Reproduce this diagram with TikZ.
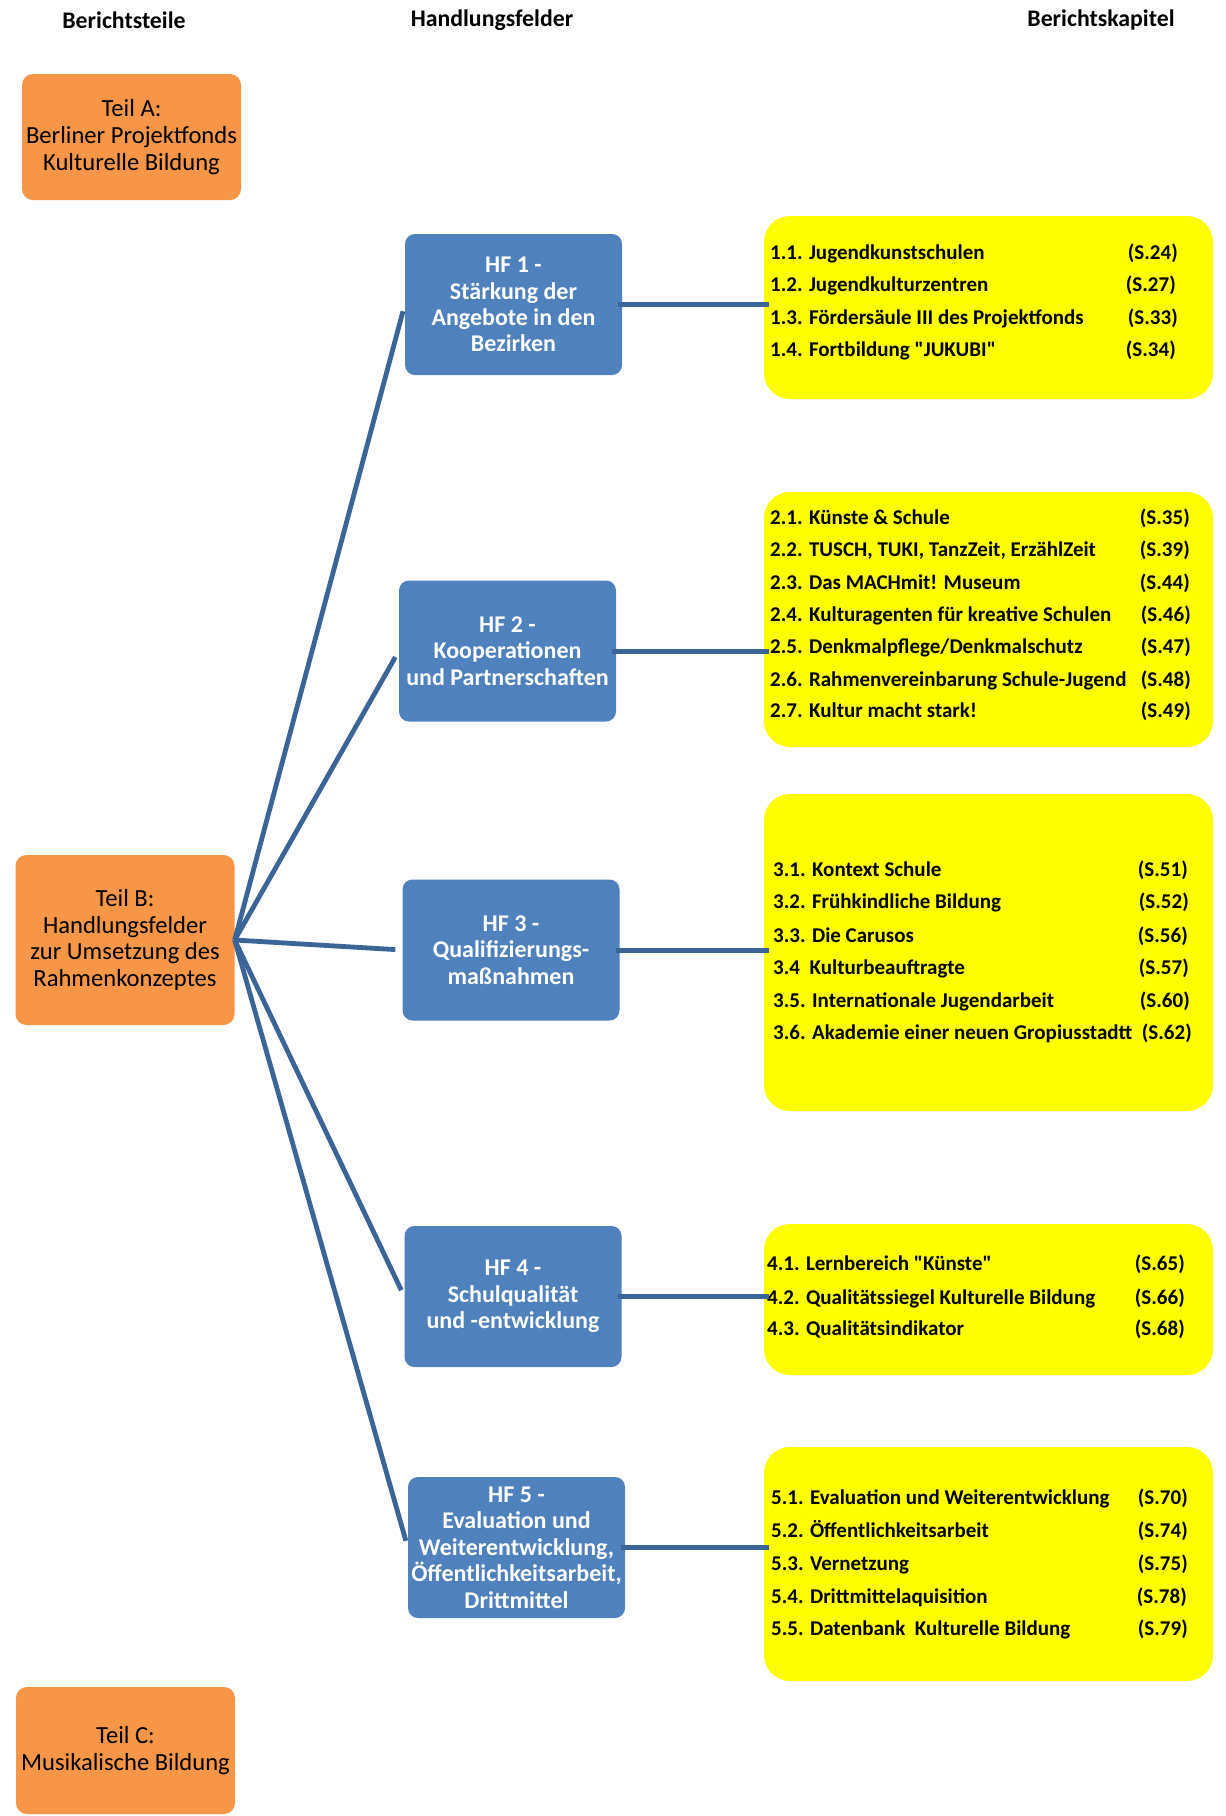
\documentclass[tikz,border=0pt]{standalone}
\usepackage{fontspec}
\setmainfont{Carlito}
\definecolor{orangefill}{HTML}{F79646}
\definecolor{bluefill}{HTML}{4F81BD}
\definecolor{linkblue}{HTML}{3B6597}
\definecolor{yellowfill}{HTML}{FFFF00}
\newcommand\kaprow[5]{%
  \node[itemtext, anchor=base west] (#1t) at (#2) {#4};
  \node[itemtext, anchor=base east] (#1p) at (#3) {#5};}
\begin{document}
\begin{tikzpicture}[x=1pt, y=-1pt,
  header/.style={font=\fontsize{23.8}{26}\selectfont\bfseries, inner sep=0},
  teilbox/.style={fill=orangefill, rounded corners=11pt, minimum width=219pt, align=center, inner sep=0,
     font=\fontsize{24.6}{26.6}\selectfont},
  hfbox/.style={fill=bluefill, rounded corners=10pt, minimum width=217pt, minimum height=141pt, align=center,
     inner sep=0, text=white, font=\fontsize{24}{26.4}\selectfont\bfseries},
  kapbox/.style={fill=yellowfill, rounded corners=26pt, minimum width=449pt, inner sep=0},
  itemtext/.style={inner sep=0, font=\fontsize{21}{24}\selectfont\bfseries},
  hubline/.style={draw=linkblue, line width=4.8pt, shorten >=7pt},
  hline/.style={draw=linkblue, line width=5pt, shorten <=-4pt, shorten >=-5pt}]
\useasboundingbox[fill=white] (0,0) rectangle (1226,1816);

% headers
\node[header] (h1) at (124,20) {Berichtsteile};
\node[header] (h2) at (492,20) {Handlungsfelder};
\node[header] (h3) at (1101,20) {Berichtskapitel};

% orange boxes
\node[teilbox, minimum height=126pt] (ta) at (131.5,137) {Teil A:\\Berliner Projektfonds\\Kulturelle Bildung};
\node[teilbox, minimum height=170pt] (tb) at (125,940) {Teil B:\\Handlungsfelder\\zur Umsetzung des\\Rahmenkonzeptes};
\node[teilbox, minimum height=127pt] (tc) at (125.5,1750.5) {Teil C:\\Musikalische Bildung};

% blue boxes
\node[hfbox] (hf1) at (513.5,304.5) {HF 1 -\\Stärkung der\\Angebote in den\\Bezirken};
\node[hfbox] (hf2) at (507.5,651) {HF 2 -\\Kooperationen\\und Partnerschaften};
\node[hfbox] (hf3) at (511,950) {HF 3 -\\Qualifizierungs-\\maßnahmen};
\node[hfbox] (hf4) at (513,1296.5) {HF 4 -\\Schulqualität\\und -entwicklung};
\node[hfbox] (hf5) at (516.5,1547.5) {HF 5 -\\Evaluation und\\Weiterentwicklung,\\Öffentlichkeitsarbeit,\\Drittmittel};

% yellow boxes
\node[kapbox, minimum height=183pt] (y1) at (988.5,307.5) {};
\node[kapbox, minimum height=255pt] (y2) at (988.5,619.5) {};
\node[kapbox, minimum height=317pt] (y3) at (988.5,952.5) {};
\node[kapbox, minimum height=151pt] (y4) at (988.5,1299.5) {};
\node[kapbox, minimum height=234pt] (y5) at (988.5,1564) {};

% chapter rows
\kaprow{a1}{770,259}{1178,259}{1.1. Jugendkunstschulen}{(S.24)}
\kaprow{a2}{770,291.5}{1176,291.5}{1.2. Jugendkulturzentren}{(S.27)}
\kaprow{a3}{770,324}{1178,324}{1.3. Fördersäule III des Projektfonds}{(S.33)}
\kaprow{a4}{770,356}{1176,356}{1.4. Fortbildung \textquotedbl JUKUBI\textquotedbl}{(S.34)}

\kaprow{b1}{770,524}{1190,524}{2.1. Künste \& Schule}{(S.35)}
\kaprow{b2}{770,556.5}{1190,556.5}{2.2. TUSCH, TUKI, TanzZeit, ErzählZeit}{(S.39)}
\kaprow{b3}{770,589}{1190,589}{2.3. Das MACHmit! Museum}{(S.44)}
\kaprow{b4}{770,621}{1191,621}{2.4. Kulturagenten für kreative Schulen}{(S.46)}
\kaprow{b5}{770,653.5}{1191,653.5}{2.5. Denkmalpflege/Denkmalschutz}{(S.47)}
\kaprow{b6}{770,686}{1191,686}{2.6. Rahmenvereinbarung Schule-Jugend}{(S.48)}
\kaprow{b7}{770,717.5}{1191,717.5}{2.7. Kultur macht stark!}{(S.49)}

\kaprow{c1}{773,876}{1188,876}{3.1. Kontext Schule}{(S.51)}
\kaprow{c2}{773,908.5}{1189,908.5}{3.2. Frühkindliche Bildung}{(S.52)}
\kaprow{c3}{773,942}{1188,942}{3.3. Die Carusos}{(S.56)}
\kaprow{c4}{773,974.5}{1189,974.5}{3.4\ \ Kulturbeauftragte}{(S.57)}
\kaprow{c5}{773,1007}{1190,1007}{3.5. Internationale Jugendarbeit}{(S.60)}
\kaprow{c6}{773,1039}{1192,1039}{3.6. Akademie einer neuen Gropiusstadtt}{(S.62)}

\kaprow{d1}{767,1270.5}{1185,1270.5}{4.1. Lernbereich \textquotedbl Künste\textquotedbl}{(S.65)}
\kaprow{d2}{767,1304}{1185,1304}{4.2. Qualitätssiegel Kulturelle Bildung}{(S.66)}
\kaprow{d3}{767,1335.5}{1185,1335.5}{4.3. Qualitätsindikator}{(S.68)}

\kaprow{e1}{771,1504.5}{1188,1504.5}{5.1. Evaluation und Weiterentwicklung}{(S.70)}
\kaprow{e2}{771,1537}{1188,1537}{5.2. Öffentlichkeitsarbeit}{(S.74)}
\kaprow{e3}{771,1570.5}{1188,1570.5}{5.3. Vernetzung}{(S.75)}
\kaprow{e4}{771,1603}{1187,1603}{5.4. Drittmittelaquisition}{(S.78)}
\kaprow{e5}{771,1635.5}{1188,1635.5}{5.5. Datenbank\ \ Kulturelle Bildung}{(S.79)}

% connectors: Teil B to HF
\draw[hubline] (tb.east) -- (hf1.west);
\draw[hubline] (tb.east) -- (hf2.west);
\draw[hubline] (tb.east) -- (hf3.west);
\draw[hubline] (tb.east) -- (hf4.west);
\draw[hubline] (tb.east) -- (hf5.west);

% connectors: HF to chapters
\draw[hline] (hf1.east) -- (hf1.east -| y1.west);
\draw[hline] (hf2.east) -- (hf2.east -| y2.west);
\draw[hline] (hf3.east) -- (hf3.east -| y3.west);
\draw[hline] (hf4.east) -- (hf4.east -| y4.west);
\draw[hline] (hf5.east) -- (hf5.east -| y5.west);
\end{tikzpicture}
\end{document}
